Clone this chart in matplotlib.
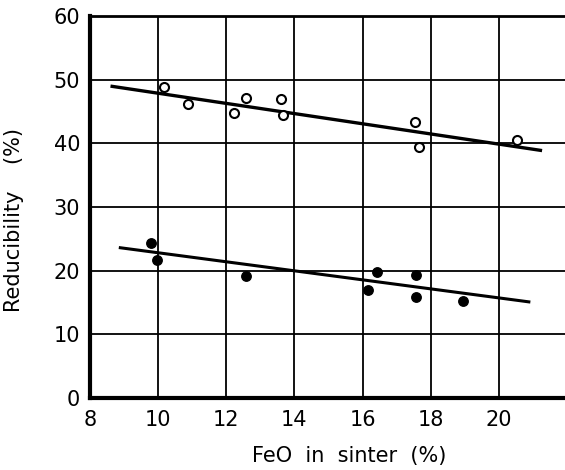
import matplotlib
matplotlib.use("Agg")
import matplotlib.pyplot as plt

# Open circles (upper series)
open_x = [10.17, 10.89, 12.22, 12.57, 13.61, 13.66, 17.54, 17.67, 20.53]
open_y = [48.8, 46.2, 44.8, 47.1, 46.9, 44.5, 43.3, 39.5, 40.5]
open_line_x = [8.65, 21.22]
open_line_y = [48.95, 38.9]

# Filled circles (lower series)
fill_x = [9.80, 9.97, 12.57, 16.16, 16.42, 17.56, 17.56, 18.96]
fill_y = [24.3, 21.7, 19.2, 16.9, 19.8, 19.3, 15.9, 15.2]
fill_line_x = [8.89, 20.88]
fill_line_y = [23.6, 15.1]

x_ticks = [8, 10, 12, 14, 16, 18, 20]
y_ticks = [0, 10, 20, 30, 40, 50, 60]

fig = plt.figure(figsize=(5.65, 4.70), dpi=100)
ax = fig.add_axes([90 / 565, 72 / 470, 477 / 565, 382 / 470])
ax.set_xlim(8, 22)
ax.set_ylim(0, 60)

for xv in x_ticks[1:]:
    ax.axvline(xv, color="black", lw=1.3, zorder=1)
for yv in y_ticks[1:-1]:
    ax.axhline(yv, color="black", lw=1.3, zorder=1)

ax.plot(open_line_x, open_line_y, color="black", lw=2.4, zorder=2)
ax.plot(fill_line_x, fill_line_y, color="black", lw=2.2, zorder=2)
ax.plot(open_x, open_y, "o", ms=6.5, mfc="white", mec="black", mew=1.5, zorder=3)
ax.plot(fill_x, fill_y, "o", ms=6.8, mfc="black", mec="black", zorder=3)

ax.spines["right"].set_visible(False)
ax.spines["left"].set_linewidth(3)
ax.spines["bottom"].set_linewidth(3)
ax.spines["top"].set_linewidth(2)

ax.set_xticks(x_ticks)
ax.set_yticks(y_ticks)
ax.tick_params(length=0, labelsize=15)
ax.tick_params(axis="y", pad=7)
ax.tick_params(axis="x", pad=9)

fig.text(349 / 565, 1 - 456 / 470, "FeO  in  sinter  (%)", ha="center", va="center", fontsize=15)
fig.text(14 / 565, 1 - 220 / 470, "Reducibility    (%)", ha="center", va="center",
         rotation=90, fontsize=15)

fig.savefig("out.png", dpi=100)
